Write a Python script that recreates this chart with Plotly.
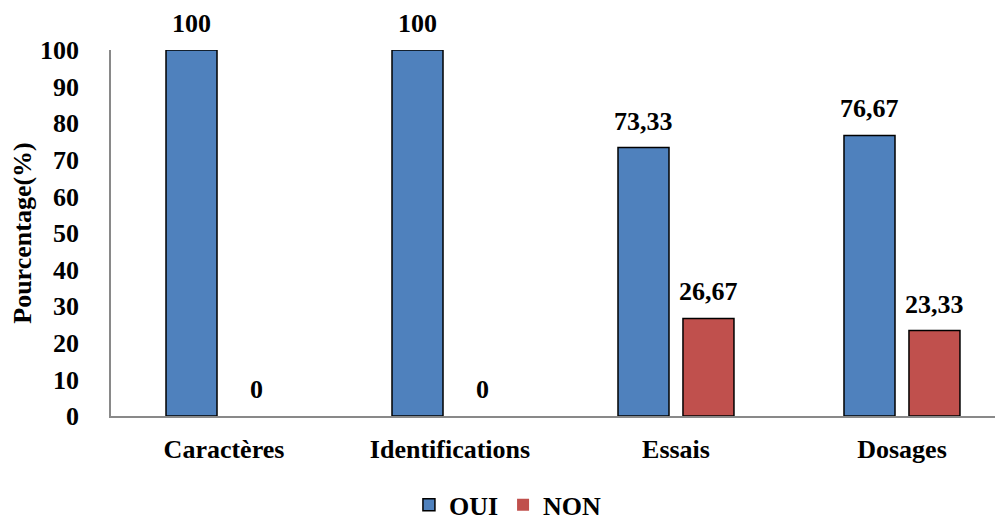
import plotly.graph_objects as go

categories = ["Caractères", "Identifications", "Essais", "Dosages"]
oui = [100, 100, 73.33, 76.67]
non = [0, 0, 26.67, 23.33]
y_ticks = [0, 10, 20, 30, 40, 50, 60, 70, 80, 90, 100]


def fmt(v):
    s = ("%.2f" % v).rstrip("0").rstrip(".")
    return s.replace(".", ",")


FONT = "Liberation Serif"
FS = 26
BAR_OFFSET = 32.5  # px between group centre and bar centre

fig = go.Figure()
fig.add_trace(go.Bar(
    name="OUI", x=categories, y=oui,
    marker=dict(color="#4F81BD",
                line=dict(color="#000000", width=[0 if v == 0 else 1.5 for v in oui])),
))
fig.add_trace(go.Bar(
    name="NON", x=categories, y=non,
    marker=dict(color="#C0504D",
                line=dict(color="#000000", width=[0 if v == 0 else 1.5 for v in non])),
))

annotations = []
for series, shift in ((oui, -BAR_OFFSET), (non, BAR_OFFSET)):
    for c, v in zip(categories, series):
        annotations.append(dict(
            x=c, y=v, xref="x", yref="y", text=fmt(v), showarrow=False,
            xanchor="center", yanchor="bottom", xshift=shift, yshift=10,
            font=dict(family=FONT, size=FS, color="black", weight="bold"),
        ))

# page body has an 8px default margin, so the figure is 8px smaller
fig.update_layout(
    width=995, height=513,
    margin=dict(l=103, r=0, t=42, b=105, autoexpand=False),
    paper_bgcolor="white", plot_bgcolor="white",
    barmode="group", bargap=0.425, bargroupgap=0.215,
    font=dict(family=FONT, size=FS, color="black", weight="bold"),
    legend=dict(orientation="h", x=0.445, xanchor="center", y=-0.243, yanchor="middle",
                font=dict(family=FONT, size=FS, color="black", weight="bold"),
                itemwidth=30, traceorder="normal", tracegroupgap=0),
    showlegend=True,
    annotations=annotations,
)
fig.update_xaxes(
    range=[-0.5, 3.447], showline=True, linecolor="#898989", linewidth=1.5,
    showgrid=False, ticks="", tickfont=dict(family=FONT, size=FS, weight="bold"),
    ticklabelstandoff=9,
)
fig.update_yaxes(
    range=[0, 100], tickvals=y_ticks, showline=True, linecolor="#898989", linewidth=1.5,
    showgrid=False, zeroline=False, ticks="",
    tickfont=dict(family=FONT, size=FS, weight="bold"), ticklabelstandoff=25,
    title=dict(text="Pourcentage(%)", font=dict(family=FONT, size=FS, weight="bold"), standoff=9),
)

fig.write_html("out.html")
